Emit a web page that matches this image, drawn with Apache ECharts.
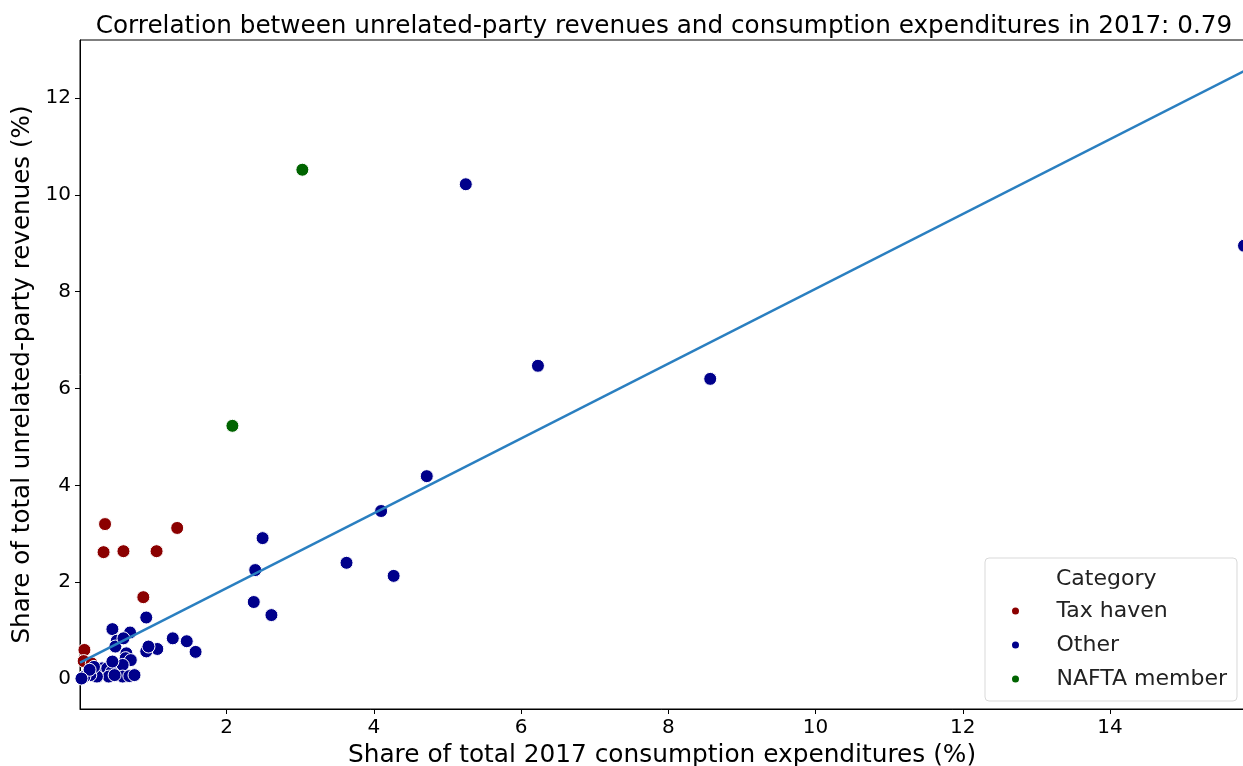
<!DOCTYPE html>
<html>
<head>
<meta charset="utf-8">
<script src="https://cdn.jsdelivr.net/npm/echarts@6/dist/echarts.min.js"></script>
<style>
  html, body { margin: 0; padding: 0; background: #fff; }
  #chart { width: 1243px; height: 766px; }
</style>
</head>
<body>
<div id="chart"></div>
<script>
// 数据: [x, y] 消费支出占比 / 非关联方收入占比
const taxHaven = [
  [0.35, 3.20], [1.33, 3.12], [0.33, 2.62], [0.60, 2.64], [1.05, 2.64],
  [0.87, 1.69], [0.07, 0.60], [0.06, 0.37], [0.17, 0.32]
];
const other = [
  [5.25, 10.22], [6.23, 6.47], [8.57, 6.20], [15.82, 8.95], [4.72, 4.19],
  [4.10, 3.47], [3.63, 2.40], [4.27, 2.13], [2.49, 2.91], [2.39, 2.25],
  [2.37, 1.59], [2.61, 1.32], [0.91, 1.27], [0.45, 1.03], [0.69, 0.96],
  [0.51, 0.79], [0.49, 0.67], [0.60, 0.84], [1.27, 0.84], [1.46, 0.78],
  [1.58, 0.56], [1.06, 0.62], [0.91, 0.57], [0.94, 0.67], [0.64, 0.53],
  [0.63, 0.43], [0.70, 0.39], [0.59, 0.29], [0.59, 0.05], [0.68, 0.06],
  [0.75, 0.08], [0.39, 0.22], [0.31, 0.22], [0.38, 0.22], [0.44, 0.15],
  [0.45, 0.36], [0.40, 0.05], [0.48, 0.08], [0.24, 0.05], [0.15, 0.08],
  [0.07, 0.05], [0.20, 0.25], [0.14, 0.19], [0.03, 0.01]
];
const nafta = [
  [3.03, 10.52], [2.08, 5.23]
];
// 回归线
const fitIntercept = 0.33;
const fitSlope = 0.773;
const xMin = 0.01, xMax = 15.82;
const yMin = -0.62, yMax = 13.2;

const fitLine = [xMin, xMax].map((x) => [x, fitIntercept + fitSlope * x]);

const FONT = "DejaVu Sans";
const myChart = echarts.init(document.getElementById("chart"));

// 只显示 2 的倍数
const evenLabel = (v) => {
  const r = v / 2;
  return Math.abs(r - Math.round(r)) < 1e-6 ? String(Math.round(v)) : "";
};

const pointStyle = (color) => ({
  color: color,
  borderColor: "#fff",
  borderWidth: 1,
  opacity: 1,
});

myChart.setOption({
  animation: false,
  title: {
    text: "Correlation between unrelated-party revenues and consumption expenditures in 2017: 0.79",
    left: 659,
    textAlign: "center",
    top: 9,
    textStyle: { fontFamily: FONT, fontSize: 24.7, fontWeight: "normal", color: "#000" },
  },
  grid: {
    left: 80,
    right: -1,
    top: 40,
    bottom: 57,
    outerBoundsMode: "none",
    containLabel: false,
    show: true,
    borderColor: "#000",
    borderWidth: 1,
  },
  xAxis: {
    type: "value",
    min: xMin,
    max: xMax,
    splitNumber: 8,
    name: "Share of total 2017 consumption expenditures (%)",
    nameLocation: "middle",
    nameGap: 32,
    nameTextStyle: { fontFamily: FONT, fontSize: 24.8, color: "#000" },
    axisLine: { show: true, onZero: false, lineStyle: { color: "#000" } },
    axisTick: { show: true, length: 5, lineStyle: { color: "#000" } },
    splitLine: { show: false },
    axisLabel: {
      fontFamily: FONT, fontSize: 20, color: "#000", margin: 9,
      showMinLabel: false, showMaxLabel: false,
      formatter: (v) => (v > 1 ? evenLabel(v) : ""),
    },
  },
  yAxis: {
    type: "value",
    min: yMin,
    max: yMax,
    splitNumber: 7,
    name: "Share of total unrelated-party revenues (%)",
    nameLocation: "middle",
    nameGap: 35,
    nameTextStyle: { fontFamily: FONT, fontSize: 24.6, color: "#000" },
    axisLine: { show: true, onZero: false, lineStyle: { color: "#000" } },
    axisTick: { show: true, length: 5, lineStyle: { color: "#000" } },
    splitLine: { show: false },
    axisLabel: {
      fontFamily: FONT, fontSize: 20, color: "#000", margin: 9,
      showMinLabel: false, showMaxLabel: false,
      formatter: evenLabel,
    },
  },
  legend: {
    orient: "vertical",
    left: 985,
    top: 558,
    padding: [42, 10, 11, 25],
    itemGap: 12,
    itemWidth: 40,
    itemHeight: 9,
    icon: "circle",
    backgroundColor: "#fff",
    borderColor: "#d9d9d9",
    borderWidth: 1,
    borderRadius: 4,
    textStyle: { fontFamily: FONT, fontSize: 22, color: "#222", padding: [0, 0, 0, 16] },
    data: ["Tax haven", "Other", "NAFTA member"],
  },
  graphic: [
    {
      type: "text",
      left: 1056,
      top: 568,
      z: 100,
      style: { text: "Category", font: "22px 'DejaVu Sans'", fill: "#222" },
    },
  ],
  series: [
    {
      name: "Tax haven",
      type: "scatter",
      data: taxHaven,
      symbolSize: 13,
      itemStyle: pointStyle("#8b0000"),
      z: 2,
    },
    {
      name: "Other",
      type: "scatter",
      data: other,
      symbolSize: 13,
      itemStyle: pointStyle("#00008b"),
      z: 2,
    },
    {
      name: "NAFTA member",
      type: "scatter",
      data: nafta,
      symbolSize: 13,
      itemStyle: pointStyle("#006400"),
      z: 2,
    },
    {
      name: "fit",
      type: "line",
      data: fitLine,
      showSymbol: false,
      symbol: "none",
      lineStyle: { color: "#2a7fc0", width: 2.5 },
      z: 3,
      silent: true,
    },
  ],
});
</script>
</body>
</html>
